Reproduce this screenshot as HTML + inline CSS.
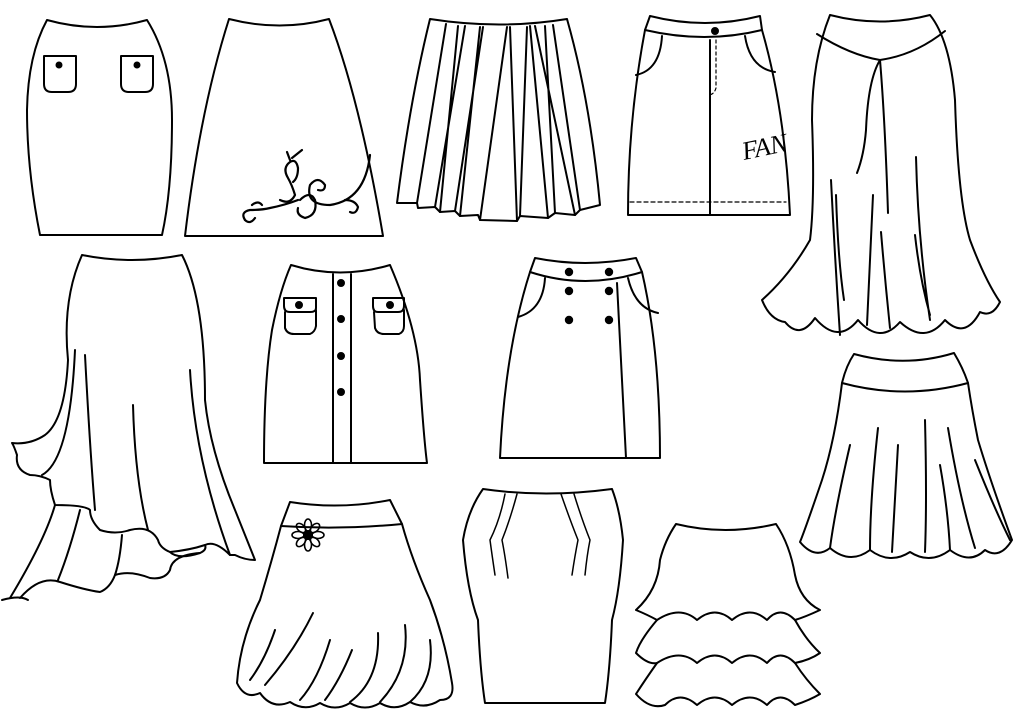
<!DOCTYPE html>
<html><head><meta charset="utf-8"><style>
html,body{margin:0;padding:0;background:#fff;}
svg{display:block}
</style></head><body>
<svg width="1023" height="723" viewBox="0 0 1023 723" xmlns="http://www.w3.org/2000/svg" fill="none" stroke="#000" stroke-width="2" stroke-linejoin="round" stroke-linecap="round">
<rect x="0" y="0" width="1023" height="723" fill="#fff" stroke="none"/>
<!-- 1 pencil with pockets -->
<path d="M47 20 Q97 34 147 20 Q172 60 172 120 Q172 190 162 235 L40 235 Q27 170 27 110 Q28 55 47 20 Z"/>
<path d="M44 56 L76 56 L76 84 Q76 92 68 92 L52 92 Q44 92 44 84 Z"/>
<path d="M121 56 L153 56 L153 84 Q153 92 145 92 L129 92 Q121 92 121 84 Z"/>
<circle cx="59" cy="65" r="2.5" fill="#000"/>
<circle cx="137" cy="65" r="2.5" fill="#000"/>
<!-- 2 A-line -->
<path d="M229 19 Q280 32 329 19 Q360 100 383 236 L185 236 Q200 110 229 19 Z"/>
<g stroke-width="2.2">
<path d="M370 155 Q365 200 330 205 Q305 205 310 185 Q318 175 325 185 Q325 192 318 190"/>
<path d="M345 200 Q355 200 358 207 Q356 215 350 212"/>
<path d="M280 200 Q290 205 295 195 Q292 185 288 178 Q282 168 290 162 Q296 158 298 168 Q298 178 293 182"/>
<path d="M290 160 L287 152 M292 158 L302 150"/>
<path d="M300 200 Q310 190 315 200 Q318 215 305 218 Q296 215 298 208"/>
<path d="M245 220 Q240 212 250 210 Q262 210 270 208 Q285 205 298 200"/>
<path d="M262 205 Q258 200 252 205 M245 220 Q250 225 255 218"/>
</g>
<!-- 3 pleated -->
<path d="M430 19 Q500 30 567 19 Q590 100 600 205 L580 210 L575 215 L555 213 L548 218 L520 216 L517 221 L480 220 L478 215 L460 216 L455 211 L440 212 L435 207 L418 208 L417 203 L397 203 Q410 100 430 19 Z"/>
<path d="M446 24 L417 203 M458 26 L440 212 M465 26 L435 207 M480 27 L460 216 M483 27 L455 211 M507 27 L480 220 M510 27 L517 221 M527 27 L520 216 M530 26 L548 218 M545 26 L555 213 M535 26 L575 215 M553 25 L580 210"/>
<!-- 4 denim -->
<path d="M650 16 Q705 30 760 16 L762 30 Q705 44 645 30 Z"/>
<path d="M645 30 Q628 120 628 215 L790 215 Q785 110 762 30"/>
<path d="M710 40 L710 215"/>
<path d="M662 36 Q660 70 636 75 M745 36 Q750 68 775 72"/>
<path d="M716 40 L716 88 Q714 95 708 95" stroke-dasharray="3 3" stroke-width="1.2"/>
<path d="M630 202 L786 202" stroke-dasharray="4 3" stroke-width="1.2"/>
<circle cx="715" cy="31" r="3" fill="#000"/>
<text x="744" y="160" font-family="Liberation Serif, serif" font-style="italic" font-size="26" fill="#000" stroke="none" transform="rotate(-12 744 160)">FAN</text>
<!-- 5 mermaid -->
<path d="M830 15 Q880 28 930 15 Q950 40 955 100 Q958 200 970 240 Q985 280 1000 302 Q992 318 980 312 Q965 340 945 320 Q925 345 900 322 Q880 345 858 320 Q838 345 815 318 Q800 340 785 322 Q770 320 762 300 Q790 275 810 240 Q815 200 812 120 Q812 60 830 15 Z"/>
<path d="M817 34 Q850 55 880 60 Q915 55 945 31"/>
<path d="M880 60 Q868 80 866 130 Q864 155 857 173 M880 60 Q885 120 888 213"/>
<path d="M831 180 Q835 260 840 335 M836 195 Q838 260 844 300 M873 195 Q870 260 867 325 M881 232 Q885 280 890 328 M916 157 Q918 240 930 320 M915 235 Q920 280 930 315"/>
<!-- 6 asymmetric -->
<path d="M82 255 Q132 265 182 255 Q205 300 205 400 Q210 450 235 510 Q245 535 255 560 Q245 560 235 555 L230 555 Q215 540 205 545 Q190 550 170 552 Q160 548 158 540 Q150 525 130 530 Q115 535 100 530 Q90 520 90 510 Q85 505 55 505 Q50 490 50 480 Q40 475 30 475 Q15 470 17 455 Q14 446 12 443 Q30 445 45 435 Q65 420 68 360 Q62 300 82 255 Z"/>
<path d="M42 475 Q70 460 75 350"/>
<path d="M85 355 Q90 450 95 510 M133 405 Q135 480 148 530 M190 370 Q195 460 230 555"/>
<path d="M55 505 Q45 540 10 598"/>
<path d="M80 510 Q70 550 58 580"/>
<path d="M122 535 Q120 560 115 575"/>
<path d="M170 552 Q178 560 200 553 Q207 550 205 545"/>
<path d="M20 598 Q40 575 60 582 Q85 590 100 592 Q110 588 115 575 Q130 570 150 578 Q165 580 170 570 Q172 555 200 553"/>
<path d="M2 600 Q20 595 28 600"/>
<!-- 7 buttons -->
<path d="M291 265 Q340 280 390 265 Q418 330 420 380 Q424 440 427 463 L264 463 Q264 380 272 330 Q280 290 291 265 Z"/>
<path d="M333 274 L333 463 M351 274 L351 463"/>
<circle cx="341" cy="283" r="3" fill="#000"/><circle cx="341" cy="319" r="3" fill="#000"/><circle cx="341" cy="356" r="3" fill="#000"/><circle cx="341" cy="392" r="3" fill="#000"/>
<path d="M284 298 L316 298 L316 308 Q316 312 310 312 L290 312 Q284 312 284 306 Z"/>
<path d="M285 312 L285 328 Q287 334 294 334 L310 334 Q315 332 316 326 L316 310"/>
<path d="M373 298 L404 298 L404 306 Q404 312 398 312 L378 312 Q373 312 373 306 Z"/>
<path d="M374 312 L375 328 Q377 334 384 334 L399 334 Q404 332 404 326 L404 310"/>
<circle cx="299" cy="305" r="3" fill="#000"/><circle cx="390" cy="305" r="3" fill="#000"/>
<!-- 8 -->
<path d="M535 258 Q585 268 636 258 L642 272 Q585 290 530 272 Z"/>
<path d="M530 272 Q505 350 500 458 L660 458 Q660 350 642 272"/>
<path d="M617 283 L626 458"/>
<path d="M545 278 Q543 310 518 317 M628 278 Q635 308 658 313"/>
<circle cx="569" cy="272" r="3.2" fill="#000"/><circle cx="609" cy="272" r="3.2" fill="#000"/>
<circle cx="569" cy="291" r="3.2" fill="#000"/><circle cx="609" cy="291" r="3.2" fill="#000"/>
<circle cx="569" cy="320" r="3.2" fill="#000"/><circle cx="609" cy="320" r="3.2" fill="#000"/>
<!-- 9 flared -->
<path d="M854 354 Q905 368 954 353 Q963 368 968 383 Q905 400 842 383 Q846 366 854 354 Z"/>
<path d="M842 383 Q835 440 822 480 Q805 530 800 542 Q815 560 830 548 Q850 565 870 550 Q890 565 910 552 Q930 565 950 550 Q970 565 985 550 Q1000 560 1012 540 Q990 480 978 440 Q972 410 968 383"/>
<path d="M850 445 Q835 510 830 548 M878 428 Q870 500 870 550 M898 445 Q895 500 892 552 M925 420 Q927 500 925 552 M940 465 Q948 510 950 550 M948 428 Q960 500 975 548 M975 460 Q995 510 1010 540"/>
<!-- 10 flower -->
<path d="M290 502 Q340 510 390 500 L402 524 Q340 530 281 526 Z"/>
<path d="M281 526 Q272 560 260 600 Q240 640 237 683 Q245 700 260 693 Q272 710 290 702 Q305 712 320 703 Q335 712 350 703 Q365 712 380 703 Q395 712 410 702 Q425 710 440 700 Q455 700 452 683 Q445 640 430 600 Q412 560 402 524"/>
<path d="M313 613 Q295 650 265 685 M330 640 Q318 680 300 700 M352 650 Q340 680 325 700 M378 633 Q380 680 350 702 M405 625 Q410 670 380 702 M430 640 Q435 680 410 702 M275 630 Q265 660 250 680"/>
<g stroke-width="1.6">
<ellipse cx="308" cy="525" rx="3.5" ry="6"/><ellipse cx="308" cy="545" rx="3.5" ry="6"/>
<ellipse cx="298" cy="535" rx="6" ry="3.5"/><ellipse cx="318" cy="535" rx="6" ry="3.5"/>
<ellipse cx="301" cy="528" rx="3.5" ry="5.5" transform="rotate(-45 301 528)"/><ellipse cx="315" cy="528" rx="3.5" ry="5.5" transform="rotate(45 315 528)"/>
<ellipse cx="301" cy="542" rx="3.5" ry="5.5" transform="rotate(45 301 542)"/><ellipse cx="315" cy="542" rx="3.5" ry="5.5" transform="rotate(-45 315 542)"/>
</g>
<circle cx="308" cy="535" r="4" fill="#000"/>
<!-- 11 tulip -->
<path d="M483 489 Q545 498 612 489 Q620 510 623 540 Q620 590 612 620 Q610 670 605 703 L485 703 Q480 670 478 620 Q467 590 463 540 Q468 510 483 489 Z"/>
<path d="M505 494 Q500 520 490 540 Q492 555 495 575 M517 494 Q510 520 502 540 Q505 555 508 578 M561 494 Q570 520 578 540 Q575 555 572 575 M574 494 Q582 520 590 540 Q587 555 585 575" stroke-width="1.5"/>
<!-- 12 tiered -->
<path d="M676 524 Q725 536 776 524 Q790 545 795 575 Q800 600 820 610 Q805 617 795 620 Q780 605 767 620 Q750 605 732 620 Q715 605 697 620 Q680 605 657 620 Q648 615 636 610 Q658 590 660 560 Q665 540 676 524 Z"/>
<path d="M657 620 Q640 640 636 653 Q648 665 657 663 Q680 648 697 663 Q715 648 732 663 Q750 648 767 663 Q780 648 795 663 Q810 660 820 653 Q806 640 795 620"/>
<path d="M657 663 Q645 680 636 694 Q650 710 665 705 Q680 690 697 705 Q715 690 732 705 Q750 690 767 705 Q780 690 795 705 Q810 700 820 694 Q806 680 795 663"/>
</svg>
</body></html>
